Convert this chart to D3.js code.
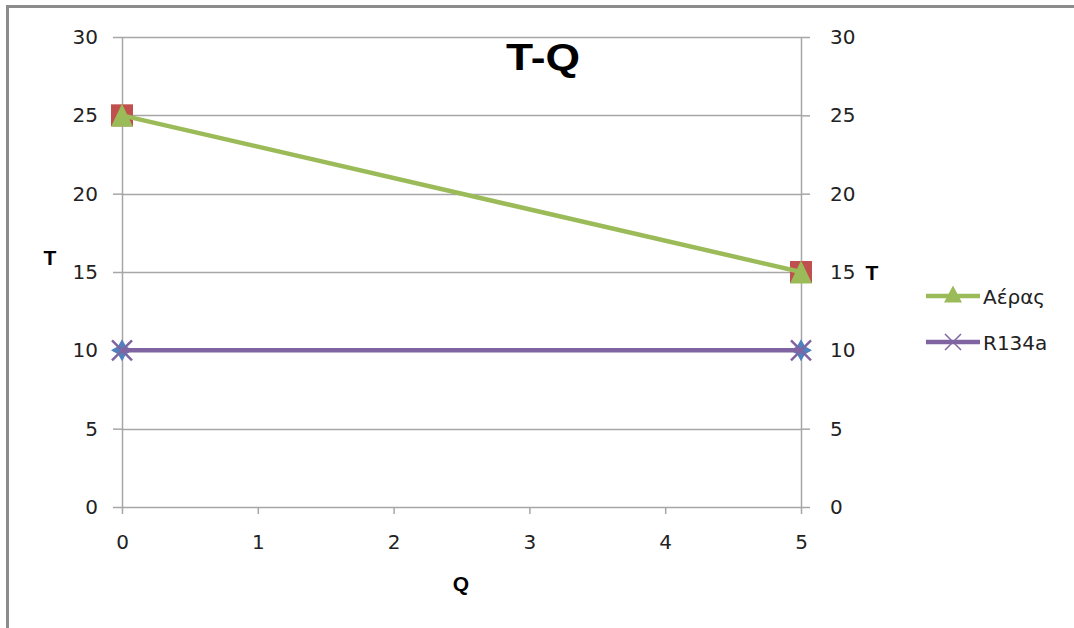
<!DOCTYPE html>
<html><head><meta charset="utf-8">
<script src="https://cdn.jsdelivr.net/npm/d3@7"></script>
<style>body{margin:0;background:#fff}svg{display:block}</style>
</head><body>
<svg id="c" width="1074" height="628"></svg>
<script>
const title = "T-Q";
const xLabel = "Q";
const yLabel = "T";
const xTicks = [0,1,2,3,4,5];
const yTicks = [0,5,10,15,20,25,30];
const qValues = [0,5];
const airT = [25,15];        // Αέρας
const r134aT = [10,10];      // R134a
const hiddenAir = [25,15];   // squares under Αέρας
const hiddenR = [10,10];     // diamonds under R134a
const seriesNames = ["Αέρας","R134a"];

const svg = d3.select("#c");
const font = "'DejaVu Sans', 'Liberation Sans', Arial, sans-serif";
const boldFont = "'Liberation Sans', Arial, sans-serif";
svg.append("rect").attr("x",7.5).attr("y",6.5).attr("width",1100).attr("height",700)
  .attr("fill","#fff").attr("stroke","#8c8c8c").attr("stroke-width",3);

const x = d3.scaleLinear().domain([0,5]).range([122,801]);
const y = d3.scaleLinear().domain([0,30]).range([507,37]);

// gridlines
svg.append("g").selectAll("line").data(yTicks.filter(d=>d>0)).join("line")
  .attr("x1",x(0)).attr("x2",x(5)).attr("y1",d=>Math.round(y(d))+0.5).attr("y2",d=>Math.round(y(d))+0.5)
  .attr("stroke","#a6a6a6").attr("stroke-width",1.3);

function styleAxis(g){
  g.selectAll("path,line").attr("stroke","#a6a6a6").attr("stroke-width",1.5);
  g.selectAll("text").attr("font-family",font).attr("font-size",20).attr("fill","#222");
}
svg.append("g").attr("transform",`translate(${x(0)},0)`)
  .call(d3.axisLeft(y).tickValues(yTicks).tickSize(9).tickSizeOuter(0).tickPadding(15))
  .call(styleAxis);
svg.append("g").attr("transform",`translate(${x(5)},0)`)
  .call(d3.axisRight(y).tickValues(yTicks).tickSize(9).tickSizeOuter(0).tickPadding(20))
  .call(styleAxis);
svg.append("g").attr("transform",`translate(0,${y(0)})`)
  .call(d3.axisBottom(x).tickValues(xTicks).tickSize(7).tickSizeOuter(0).tickPadding(21).tickFormat(d3.format("d")))
  .call(styleAxis);

const pts = (arr)=>qValues.map((q,i)=>[q,arr[i]]);
const green="#9bbb59", purple="#8064a2";
const tri = (w,h)=>`M0,${-h/2}L${w/2},${h/2}L${-w/2},${h/2}Z`;
const xMark = (s)=>`M${-s},${-s}L${s},${s}M${-s},${s}L${s},${-s}`;
const star = (s,k)=>`M0,${-s}L${k},${-k}L${s},0L${k},${k}L0,${s}L${-k},${k}L${-s},0L${-k},${-k}Z`;

// hidden series markers
svg.append("g").selectAll("rect").data(pts(hiddenAir)).join("rect")
  .attr("x",d=>x(d[0])-11).attr("y",d=>y(d[1])-11).attr("width",22).attr("height",22).attr("fill","#c0504d");
svg.append("g").selectAll("path").data(pts(hiddenR)).join("path")
  .attr("transform",d=>`translate(${x(d[0])},${y(d[1])})`)
  .attr("d",star(11,4)).attr("fill","#4f81bd");

const line = d3.line().x(d=>x(d[0])).y(d=>y(d[1]));
svg.append("path").datum(pts(airT)).attr("d",line).attr("fill","none").attr("stroke",green).attr("stroke-width",4.5);
svg.append("g").selectAll("path").data(pts(airT)).join("path")
  .attr("transform",d=>`translate(${x(d[0])},${y(d[1])})`)
  .attr("d",tri(22,23)).attr("fill",green);
svg.append("path").datum(pts(r134aT)).attr("d",line).attr("fill","none").attr("stroke",purple).attr("stroke-width",4.5);
svg.append("g").selectAll("path").data(pts(r134aT)).join("path")
  .attr("transform",d=>`translate(${x(d[0])},${y(d[1])})`)
  .attr("d",xMark(10)).attr("fill","none").attr("stroke",purple).attr("stroke-width",2.5);

// titles
svg.append("text").attr("x",543).attr("y",70).attr("text-anchor","middle").attr("font-family",boldFont)
  .attr("font-weight","bold").attr("font-size",36).attr("textLength",74).attr("lengthAdjust","spacingAndGlyphs").text(title);
svg.append("text").attr("x",461).attr("y",591).attr("text-anchor","middle").attr("font-family",boldFont)
  .attr("font-weight","bold").attr("font-size",21).text(xLabel);
svg.append("text").attr("x",50).attr("y",265).attr("text-anchor","middle").attr("font-family",boldFont)
  .attr("font-weight","bold").attr("font-size",21).text(yLabel);
svg.append("text").attr("x",872).attr("y",280).attr("text-anchor","middle").attr("font-family",boldFont)
  .attr("font-weight","bold").attr("font-size",21).text(yLabel);

// legend
const lg = svg.append("g");
const colors=[green,purple];
seriesNames.forEach((n,i)=>{
  const yy = 296 + i*46;
  lg.append("line").attr("x1",926).attr("x2",980).attr("y1",yy).attr("y2",yy).attr("stroke",colors[i]).attr("stroke-width",4.5);
  if(i===0) lg.append("path").attr("transform",`translate(953,${yy-2})`).attr("d",tri(18,17)).attr("fill",green);
  else lg.append("path").attr("transform",`translate(953,${yy})`).attr("d",xMark(8)).attr("fill","none").attr("stroke",purple).attr("stroke-width",1.5);
  lg.append("text").attr("x",983).attr("y",yy+8).attr("font-family",font).attr("font-size",20).attr("fill","#222").text(n);
});
</script>
</body></html>
